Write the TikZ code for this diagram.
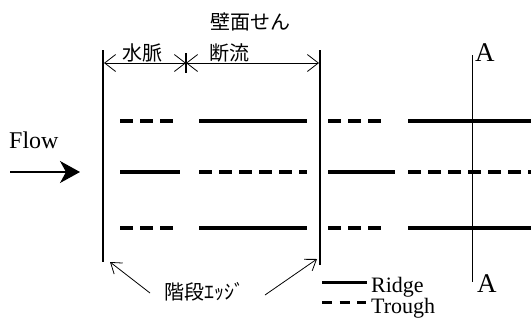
\documentclass[tikz,border=0pt]{standalone}
\usepackage{fontspec}
\setmainfont{Liberation Serif}
\newfontfamily\jp{Noto Sans CJK JP}
\usetikzlibrary{arrows.meta}
\begin{document}
\begin{tikzpicture}[x=1pt,y=-1pt,
  ridge/.style={line width=3.8pt},
  trough/.style={line width=3.8pt, dash pattern=on 13pt off 7pt},
  edgeline/.style={line width=1.8pt},
  barb/.style={line width=0.8pt},
  barbtip/.tip={Straight Barb[length=11pt,width=17pt]},
  smallbarb/.tip={Straight Barb[length=10pt,width=14pt]},
  lbl/.style={font=\fontsize{22}{24}\selectfont, inner sep=0pt},
  flowlbl/.style={font=\fontsize{24}{26}\selectfont, inner sep=0pt},
  biglbl/.style={font=\fontsize{27}{29}\selectfont, inner sep=0pt},
  jlbl/.style={font=\jp\fontsize{20}{22}\selectfont, inner sep=0pt}]
\useasboundingbox (0,0) rectangle (531,322);
% step edges
\coordinate (L1) at (103,50); \coordinate (L2) at (103,262);
\coordinate (R1) at (320,50); \coordinate (R2) at (320,265);
\coordinate (M1) at (186,53); \coordinate (M2) at (186,73);
\draw[edgeline] (L1) -- (L2);
\draw[edgeline] (R1) -- (R2);
\draw[line width=1.2pt] (M1) -- (M2);
% dimension arrows
\coordinate (d0) at (104,63); \coordinate (d1) at (186,63); \coordinate (d2) at (319,63);
\draw[barb, barbtip-barbtip] (d0) -- (d1);
\draw[barb, barbtip-barbtip] (d1) -- (d2);
\node[jlbl] (suimyaku) at (142,53) {水脈};
\node[jlbl] (danryu) at (229,53) {断流};
\node[jlbl] (hekimen) at (250,22) {壁面せん};
% flow
\node[flowlbl, anchor=base west] (flow) at (9,148) {Flow};
\coordinate (f0) at (10,172); \coordinate (f1) at (80,172);
\draw[line width=1.2pt, -{Stealth[length=20pt,width=22pt,inset=6pt]}] (f0) -- (f1);
% rows
\coordinate (a1) at (120,121); \coordinate (a2) at (174,121);
\coordinate (a3) at (199,121); \coordinate (a4) at (307,121);
\coordinate (a5) at (328,121); \coordinate (a6) at (383,121);
\coordinate (a7) at (408,121); \coordinate (a8) at (531,121);
\draw[trough] (a1) -- (a2); \draw[ridge] (a3) -- (a4);
\draw[trough] (a5) -- (a6); \draw[ridge] (a7) -- (a8);
\coordinate (b1) at (120,172); \coordinate (b2) at (180,172);
\coordinate (b3) at (199,172); \coordinate (b4) at (307,172);
\coordinate (b5) at (328,172); \coordinate (b6) at (395,172);
\coordinate (b7) at (408,172); \coordinate (b8) at (531,172);
\draw[ridge] (b1) -- (b2); \draw[trough] (b3) -- (b4);
\draw[ridge] (b5) -- (b6); \draw[trough] (b7) -- (b8);
\coordinate (c1) at (120,228); \coordinate (c2) at (174,228);
\coordinate (c3) at (199,228); \coordinate (c4) at (307,228);
\coordinate (c5) at (328,228); \coordinate (c6) at (383,228);
\coordinate (c7) at (408,228); \coordinate (c8) at (531,228);
\draw[trough] (c1) -- (c2); \draw[ridge] (c3) -- (c4);
\draw[trough] (c5) -- (c6); \draw[ridge] (c7) -- (c8);
% section A
\coordinate (A1) at (472,55); \coordinate (A2) at (472,282);
\draw[line width=1pt] (A1) -- (A2);
\node[biglbl, anchor=base west] (Atop) at (475,61) {A};
\node[biglbl, anchor=base west] (Abot) at (477,292) {A};
% step edge label
\node[jlbl] (kaidan) at (204,292) {階段ｴｯｼﾞ};
\coordinate (k1) at (150,293); \coordinate (k2) at (110,262);
\coordinate (k3) at (265,295); \coordinate (k4) at (317,259);
\draw[barb, -smallbarb] (k1) -- (k2);
\draw[barb, -smallbarb] (k3) -- (k4);
% legend
\coordinate (g1) at (322,282); \coordinate (g2) at (367,282);
\coordinate (g3) at (322,302); \coordinate (g4) at (366,302);
\draw[line width=3pt] (g1) -- (g2);
\draw[line width=3pt, dash pattern=on 10pt off 7.5pt] (g3) -- (g4);
\node[lbl, anchor=base west] (ridgelbl) at (371,292) {Ridge};
\node[lbl, anchor=base west] (troughlbl) at (371,313) {Trough};
\end{tikzpicture}
\end{document}
